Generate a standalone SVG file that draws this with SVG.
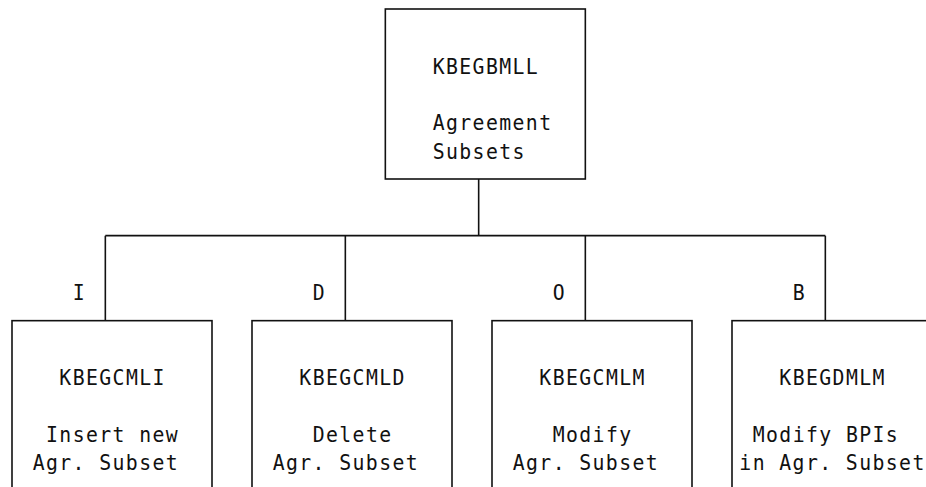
<svg xmlns="http://www.w3.org/2000/svg" width="926" height="487" viewBox="0 0 926 487">
<style>
.box{fill:#fff;stroke:#111;stroke-width:1.6}
.ln{fill:none;stroke:#111;stroke-width:1.6}
text{font-family:"DejaVu Sans Mono","Liberation Mono",monospace;font-size:22px;letter-spacing:1.56px;fill:#111}
</style>
<rect width="926" height="487" fill="#fff"/>
<g id="connectors">
<path class="ln" d="M478.67 179V235.67M105.33 235.67H825.33M105.33 235.67V320.67M345.33 235.67V320.67M585.33 235.67V320.67M825.33 235.67V320.67"/>
<g transform="scale(0.9 1)">
<text x="80.77" y="300.33">I</text>
<text x="347.43" y="300.33">D</text>
<text x="614.10" y="300.33">O</text>
<text x="880.77" y="300.33">B</text>
</g>
</g>
<g id="KBEGBMLL">
<rect class="box" x="385.33" y="9" width="200" height="170"/>
<g transform="scale(0.9 1)">
<text x="480.77" y="73.67">KBEGBMLL</text>
<text x="480.77" y="130.33">Agreement</text>
<text x="480.77" y="158.67">Subsets</text>
</g>
</g>
<g id="KBEGCMLI">
<rect class="box" x="12" y="320.67" width="200" height="170"/>
<g transform="scale(0.9 1)">
<text x="65.96" y="385.33">KBEGCMLI</text>
<text x="51.14" y="442">Insert new</text>
<text x="36.33" y="470.33">Agr. Subset</text>
</g>
</g>
<g id="KBEGCMLD">
<rect class="box" x="252" y="320.67" width="200" height="170"/>
<g transform="scale(0.9 1)">
<text x="332.62" y="385.33">KBEGCMLD</text>
<text x="347.43" y="442">Delete</text>
<text x="302.99" y="470.33">Agr. Subset</text>
</g>
</g>
<g id="KBEGCMLM">
<rect class="box" x="492" y="320.67" width="200" height="170"/>
<g transform="scale(0.9 1)">
<text x="599.29" y="385.33">KBEGCMLM</text>
<text x="614.10" y="442">Modify</text>
<text x="569.66" y="470.33">Agr. Subset</text>
</g>
</g>
<g id="KBEGDMLM">
<rect class="box" x="732" y="320.67" width="200" height="170"/>
<g transform="scale(0.9 1)">
<text x="865.96" y="385.33">KBEGDMLM</text>
<text x="836.33" y="442">Modify BPIs</text>
<text x="821.51" y="470.33">in Agr. Subset</text>
</g>
</g>
</svg>
